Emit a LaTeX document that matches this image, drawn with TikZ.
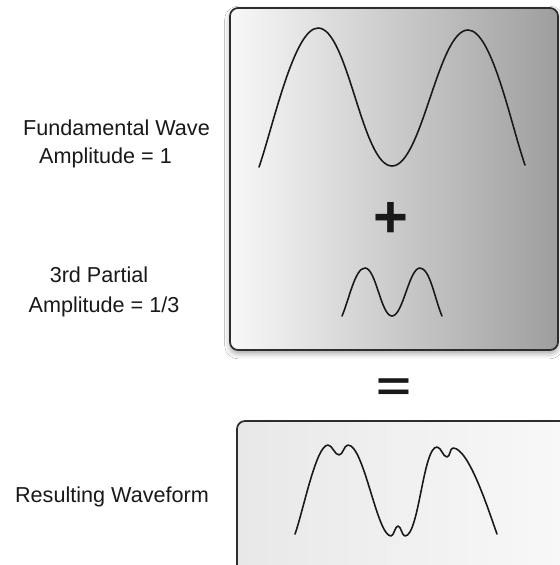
\documentclass[tikz,border=0pt]{standalone}
\usepackage{fontspec}
\setmainfont{Liberation Sans}
\usepackage{graphicx}
\usetikzlibrary{shadows.blur}
\definecolor{ink}{RGB}{25,25,25}
\definecolor{rim}{RGB}{45,45,45}
\definecolor{panelleft}{RGB}{248,248,248}
\definecolor{panelright}{RGB}{158,158,158}
\definecolor{lowleft}{RGB}{232,232,232}
\definecolor{lowright}{RGB}{250,250,250}
\tikzset{
  wave/.style={ink, line width=0.9pt, line cap=round, line join=round},
  panel/.style={draw=rim, line width=1pt, rounded corners=0.16cm},
  caption/.style={ink, anchor=base, font=\fontsize{12.3}{15}\selectfont},
  sign/.style={ink, font=\fontsize{34}{34}\selectfont\bfseries},
}

\begin{document}
\begin{tikzpicture}[x=0.02cm, y=-0.02cm]
  \useasboundingbox (0,0) rectangle (560,565);
  \clip (0,0) rectangle (560,565);
  \fill[white] (0,0) rectangle (560,565);
  % Panels
  \path[panel, left color=panelleft, right color=panelright,
    blur shadow={shadow xshift=0pt, shadow yshift=-2pt, shadow blur radius=3pt, shadow opacity=35}]
    (230,8) rectangle (558,350);
  \path[panel, left color=lowleft, right color=lowright] (237,421) rectangle (600,610);
  % Labels
  \node[caption] (fundname) at (116.5,135) {Fundamental Wave};
  \node[caption] (fundamp)  at (105.5,163) {Amplitude = 1};
  \node[caption] (partname) at (99,282)    {3rd Partial};
  \node[caption] (partamp)  at (104,312)   {Amplitude = 1/3};
  \node[caption] (result)   at (112,502)   {Resulting Waveform};
  \node[sign] (plus)   at (391,220) {+};
  \node[sign] (equals) at (394,390) {\scalebox{1}[0.7]{=}};
  % Fundamental wave
  \draw[wave] (259,167) .. controls (273,127) and (294,28) .. (318,28)
    .. controls (348,28) and (362,166) .. (392,166)
    .. controls (422,166) and (438,30) .. (468,30)
    .. controls (492,30) and (511,125) .. (525,165);
  % 3rd partial
  \draw[wave] (342,316) .. controls (349,300) and (355,268) .. (365,268)
    .. controls (376,268) and (381,316) .. (392,316)
    .. controls (403,316) and (409,268) .. (420,268)
    .. controls (430,268) and (435,300) .. (442,316);
  % Sum of the two
  \draw[wave] (295,534) .. controls (303,512) and (316,445) .. (328,445)
    .. controls (332,445) and (335,455) .. (339,455)
    .. controls (343,455) and (344,445) .. (348,445)
    .. controls (364,445) and (377,536) .. (391,536)
    .. controls (394,536) and (395,526) .. (398,526)
    .. controls (401,526) and (402,536) .. (405,536)
    .. controls (419,536) and (423,447) .. (437,447)
    .. controls (441,447) and (443,457) .. (447,457)
    .. controls (450,457) and (450,448) .. (453,448)
    .. controls (469,448) and (489,512) .. (497,534);
\end{tikzpicture}
\end{document}
